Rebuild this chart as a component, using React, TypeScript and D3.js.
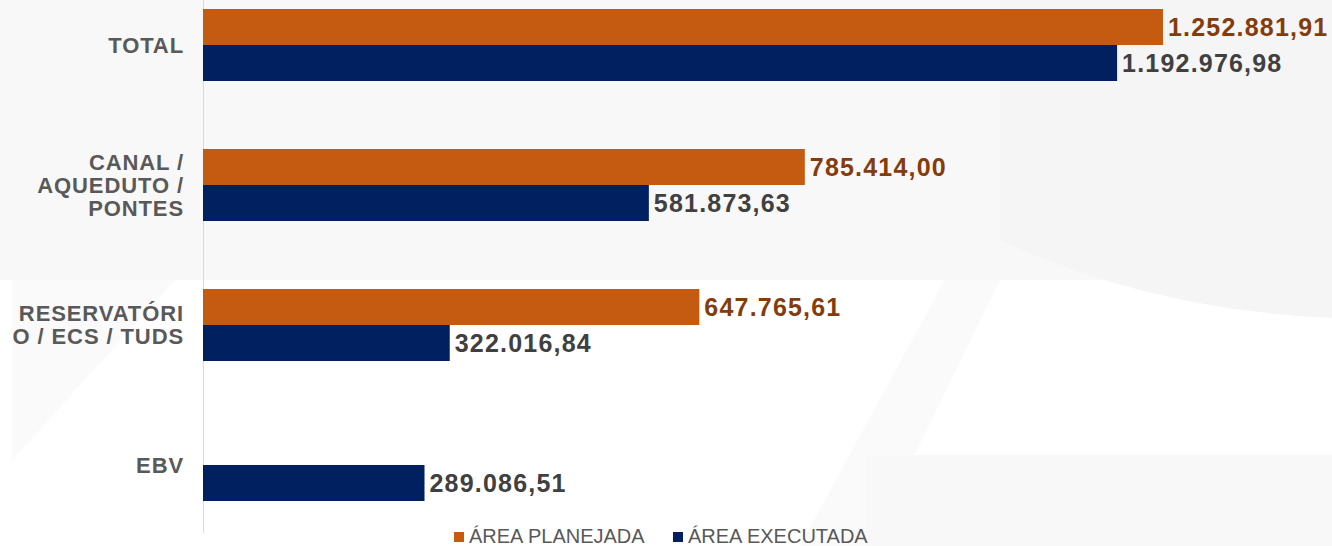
import React from 'react';
import * as d3 from 'd3';

const categories = ['TOTAL', 'CANAL / AQUEDUTO / PONTES', 'RESERVATÓRIO / ECS / TUDS', 'EBV'];
const categoryLines = [['TOTAL'], ['CANAL /', 'AQUEDUTO /', 'PONTES'], ['RESERVATÓRI', 'O / ECS / TUDS'], ['EBV']];
const series = ['ÁREA PLANEJADA', 'ÁREA EXECUTADA'];
const planejada = [1252881.91, 785414.0, 647765.61, null];
const executada = [1192976.98, 581873.63, 322016.84, 289086.51];

const W = 1332;
const H = 546;
const barColors = ['#C55A11', '#002060'];
const labelColors = ['#843C0C', '#404040'];

const br = d3.formatLocale({ decimal: ',', thousands: '.', grouping: [3], currency: ['R$', ''] });
const fmt = br.format(',.2f');

const App: React.FC = () => {
  const y0 = d3
    .scaleBand<string>()
    .domain(categories)
    .range([-25, 535])
    .paddingInner(0.4857)
    .paddingOuter(0.24285);
  const y1 = d3.scaleBand<string>().domain(series).range([0, y0.bandwidth()]);
  const x = d3.scaleLinear().domain([0, 1252881.91]).range([203, 1163]);

  const values = [planejada, executada];
  const font = '"Liberation Sans", Arial, sans-serif';

  return (
    <svg width={W} height={H} style={{ position: 'absolute', left: 0, top: 0 }}>
      {/* faint background watermark */}
      <rect x={0} y={0} width={W} height={H} fill="#ffffff" />
      <rect x={0} y={0} width={W} height={280} fill="#f8f8f8" />
      <polygon points="12,280 175,280 12,460" fill="#fafafa" />
      <polygon points="945,280 1000,280 870,546 800,546" fill="#fafafa" />
      <rect x={866} y={455} width={466} height={91} fill="#f8f8f8" />
      <path d="M1000,0 L1332,0 L1332,318 Q1150,310 1000,240 Z" fill="#f5f5f5" />

      <line x1={203.5} x2={203.5} y1={0} y2={533} stroke="#d9d9d9" strokeWidth={1} />

      {categories.map((c, ci) => (
        <g key={c}>
          {series.map((s, si) => {
            const v = values[si][ci];
            if (v == null) return null;
            const yy = (y0(c) || 0) + (y1(s) || 0);
            const h = y1.bandwidth();
            return (
              <g key={s}>
                <rect x={x(0)} y={yy} width={x(v) - x(0)} height={h} fill={barColors[si]} />
                <text
                  x={x(v) + 5}
                  y={yy + h / 2}
                  dy="0.36em"
                  fontFamily={font}
                  fontWeight="bold"
                  fontSize={25}
                  letterSpacing={1.2}
                  fill={labelColors[si]}
                >
                  {fmt(v)}
                </text>
              </g>
            );
          })}
          <text
            x={184}
            textAnchor="end"
            fontFamily={font}
            fontWeight="bold"
            fontSize={22}
            letterSpacing={0.9}
            fill="#595959"
          >
            {categoryLines[ci].map((line, li) => {
              const n = categoryLines[ci].length;
              const cy = (y0(c) || 0) + y0.bandwidth() / 2 + (li - (n - 1) / 2) * 23;
              return (
                <tspan key={li} x={184} y={cy} dy="0.36em">
                  {line}
                </tspan>
              );
            })}
          </text>
        </g>
      ))}

      {/* legend */}
      {series.map((s, si) => {
        const lx = [454, 673][si];
        return (
          <g key={s}>
            <rect x={lx} y={532} width={10} height={10} fill={barColors[si]} />
            <text x={lx + 15} y={543} fontFamily={font} fontSize={20} fill="#595959">
              {s}
            </text>
          </g>
        );
      })}
    </svg>
  );
};

export default App;
